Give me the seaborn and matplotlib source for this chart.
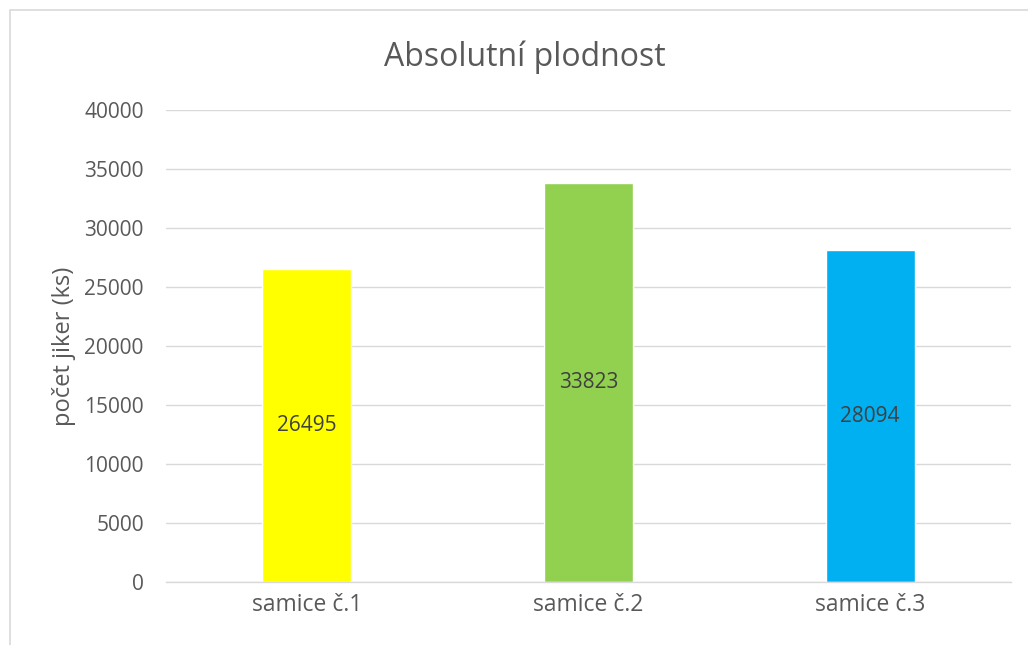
import matplotlib
matplotlib.use('Agg')
import matplotlib.pyplot as plt
import seaborn as sns
import pandas as pd

# data
categories = ['samice č.1', 'samice č.2', 'samice č.3']
values = [26495, 33823, 28094]
colors = ['#FFFF00', '#92D050', '#00B0F0']
yticks = [0, 5000, 10000, 15000, 20000, 25000, 30000, 35000, 40000]

TITLE = 'Absolutní plodnost'
YLABEL = 'počet jiker (ks)'

sns.set_theme(style='white')
plt.rcParams['font.family'] = ['Open Sans', 'DejaVu Sans']

df = pd.DataFrame({'samice': categories, 'pocet': values})

fig = plt.figure(figsize=(10.28, 6.45), dpi=100)
ax = fig.add_axes([0.1615, 0.0977, 0.822, 0.7318])

sns.barplot(data=df, x='samice', y='pocet', hue='samice', palette=colors,
            width=0.316, legend=False, ax=ax, saturation=1)

ax.set_ylim(0, 40000)
ax.set_yticks(yticks)
ax.set_yticklabels([str(t) for t in yticks])
ax.yaxis.grid(True, color='#D9D9D9', linewidth=1.0)
ax.set_axisbelow(True)
for s in ['top', 'right', 'left']:
    ax.spines[s].set_visible(False)
ax.spines['bottom'].set_color('#D9D9D9')
ax.spines['bottom'].set_linewidth(1.0)

ax.tick_params(axis='y', length=0, pad=16, labelsize=15, labelcolor='#595959')
ax.tick_params(axis='x', length=0, pad=8, labelsize=16.5, labelcolor='#595959')

ax.set_xlabel('')
ax.set_ylabel(YLABEL, fontsize=17, color='#595959', labelpad=6)

for c in ax.containers:
    ax.bar_label(c, labels=[str(int(v)) for v in c.datavalues], label_type='center',
                 fontsize=15, color='#404040')

fig.text(0.511, 0.912, TITLE, ha='center', va='center', fontsize=23, color='#595959')

# chart frame like Excel
frame = plt.Rectangle((0.0095, -0.5), 1.5, 1.484, transform=fig.transFigure,
                      fill=False, edgecolor='#D9D9D9', linewidth=1.2)
fig.patches.append(frame)

fig.savefig('out.png', dpi=100)
